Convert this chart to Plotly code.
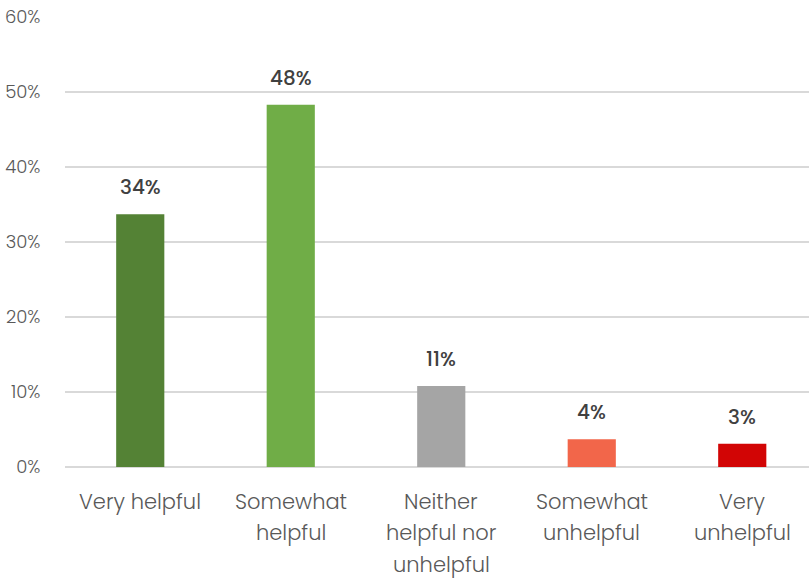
import plotly.graph_objects as go

# Survey responses: share of respondents per helpfulness rating
categories = ["Very helpful", "Somewhat helpful", "Neither helpful nor unhelpful",
              "Somewhat unhelpful", "Very unhelpful"]
label_lines = [["Very helpful"], ["Somewhat", "helpful"], ["Neither", "helpful nor", "unhelpful"],
               ["Somewhat", "unhelpful"], ["Very", "unhelpful"]]
shares = [33.7, 48.3, 10.8, 3.7, 3.1]
bar_colors = ["#548235", "#70AD47", "#A5A5A5", "#F2664A", "#D20505"]
y_ticks = [0, 10, 20, 30, 40, 50, 60]

FONT = "Poppins, Lato, 'Open Sans', sans-serif"
TICK_COLOR = "#595959"
LABEL_COLOR = "#404040"
GRID = "#D9D9D9"

fig = go.Figure(
    go.Bar(
        x=list(range(len(categories))),
        y=shares,
        marker=dict(color=bar_colors, line=dict(width=0)),
        width=0.32,
        hovertext=categories,
    )
)

annotations = []
# value labels above each bar
for i, v in enumerate(shares):
    annotations.append(dict(
        x=i, y=v, xref="x", yref="y", text=f"{v:.0f}%", showarrow=False,
        yanchor="bottom", yshift=11,
        font=dict(family=FONT, size=20, color=LABEL_COLOR, weight=500),
    ))
# wrapped category labels below the axis
for i, lines in enumerate(label_lines):
    for j, line in enumerate(lines):
        annotations.append(dict(
            x=i, y=0, xref="x", yref="paper", text=line, showarrow=False,
            yanchor="middle", yshift=-34 - 31.5 * j,
            font=dict(family=FONT, size=21, color=TICK_COLOR, weight=300),
        ))

fig.update_layout(
    width=809, height=578,
    margin=dict(l=65, r=0, t=17, b=111),
    paper_bgcolor="white", plot_bgcolor="white",
    showlegend=False,
    annotations=annotations,
    xaxis=dict(
        range=[-0.5, 4.4435], showticklabels=False, showgrid=False,
        zeroline=False, showline=False, fixedrange=True,
    ),
    yaxis=dict(
        range=[0, 60], tickvals=y_ticks, ticktext=[f"{t}%" for t in y_ticks],
        showgrid=True, gridcolor=GRID, gridwidth=1.5,
        zeroline=True, zerolinecolor=GRID, zerolinewidth=1.5,
        showline=False, ticks="outside", ticklen=20, tickcolor="rgba(0,0,0,0)",
        tickfont=dict(family=FONT, size=18, color=TICK_COLOR, weight=300),
        fixedrange=True,
    ),
)

fig.write_html("out.html")
